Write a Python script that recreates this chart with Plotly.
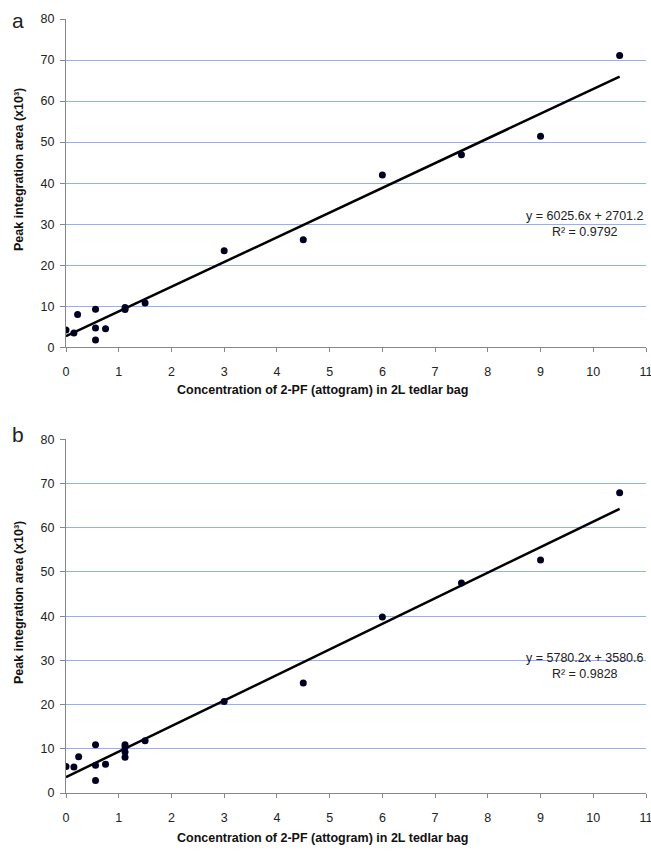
import plotly.graph_objects as go

# Panel a data (x: attogram, y: peak area x10^3)
xa = [0, 0.15, 0.22, 0.56, 0.56, 0.56, 0.75, 1.12, 1.12, 1.5, 3, 4.5, 6, 7.5, 9, 10.5]
ya = [4.2, 3.5, 8.0, 9.3, 4.7, 1.8, 4.5, 9.7, 9.2, 10.8, 23.5, 26.2, 42.0, 46.9, 51.4, 71.1]
# Panel b data
xb = [0, 0.15, 0.24, 0.56, 0.56, 0.56, 0.75, 1.12, 1.12, 1.12, 1.12, 1.5, 3, 4.5, 6, 7.5, 9, 10.5]
yb = [6.0, 5.9, 8.2, 10.9, 6.3, 2.8, 6.5, 10.9, 10.4, 9.3, 8.1, 11.8, 20.7, 24.9, 39.8, 47.5, 52.7, 67.9]

# Trendline coefficients (raw units) as printed on chart
slope_a, icpt_a = 6025.6, 2701.2
slope_b, icpt_b = 5780.2, 3580.6
r2_a, r2_b = "0.9792", "0.9828"
eq_a = "y = 6025.6x + 2701.2"
eq_b = "y = 5780.2x + 3580.6"
fit_x = [0, 10.5]

x_ticks = list(range(0, 12))
y_ticks = list(range(0, 90, 10))

W, Hfig = 651, 853
ML, MR, MT, MB = 66, 5, 19, 60
PW = W - ML - MR
PH = Hfig - MT - MB

def px(p):
    return (p - ML) / PW

def py(p):
    return (Hfig - MB - p) / PH

fig = go.Figure()

def fit_line(slope, icpt):
    return [(slope * x + icpt) / 1000 for x in fit_x]

mk = dict(color="#000022", size=7)
fig.add_trace(go.Scatter(x=fit_x, y=fit_line(slope_a, icpt_a), mode="lines",
                         line=dict(color="black", width=2.5), xaxis="x", yaxis="y", showlegend=False))
fig.add_trace(go.Scatter(x=xa, y=ya, mode="markers", marker=mk, xaxis="x", yaxis="y", showlegend=False))
fig.add_trace(go.Scatter(x=fit_x, y=fit_line(slope_b, icpt_b), mode="lines",
                         line=dict(color="black", width=2.5), xaxis="x2", yaxis="y2", showlegend=False))
fig.add_trace(go.Scatter(x=xb, y=yb, mode="markers", marker=mk, xaxis="x2", yaxis="y2", showlegend=False))

FAM = "Arial, Liberation Sans, sans-serif"
tickfont = dict(family=FAM, size=12.5, color="#222222")
xcommon = dict(range=[0, 11], tickvals=x_ticks, showgrid=False, zeroline=False,
               showline=True, linecolor="#888888", linewidth=1, ticks="outside",
               ticklen=4, tickcolor="#888888", tickfont=tickfont, automargin=False,
               ticklabelstandoff=9, ticklabeloverflow="allow")
ycommon = dict(range=[0, 80], tickvals=y_ticks, showgrid=True, gridcolor="#96AEF5", gridwidth=1,
               zeroline=False, showline=True, linecolor="#888888", linewidth=1, ticks="outside",
               ticklen=5, tickcolor="#888888", tickfont=tickfont, automargin=False,
               ticklabelstandoff=3)

# panel a: y=80 at pixel 19, y=0 at 347.3 ; panel b: 439.3 .. 793.3
fig.update_layout(
    width=W, height=Hfig,
    margin=dict(l=ML, r=MR, t=MT, b=MB),
    paper_bgcolor="white", plot_bgcolor="white",
    xaxis=dict(domain=[0, 1], anchor="y", **xcommon),
    yaxis=dict(domain=[py(347.3), 1], anchor="x", **ycommon),
    xaxis2=dict(domain=[0, 1], anchor="y2", **xcommon),
    yaxis2=dict(domain=[0, py(439.3)], anchor="x2", **ycommon),
)

afont = dict(family=FAM, size=12.5, color="#222222")
tfont = dict(family=FAM, size=12.5, color="#111111")
yt = "<b>Peak integration area (x10³)</b>"
xt = "<b>Concentration of 2-PF (attogram) in 2L tedlar bag</b>"

def ann(xp, yp, text, font, xanchor="center", **kw):
    fig.add_annotation(x=px(xp), y=py(yp), xref="paper", yref="paper", text=text,
                       showarrow=False, font=font, xanchor=xanchor, yanchor="middle", **kw)

# equations
ann(646, 224, f"{eq_a}<br>R² = {r2_a}", afont, xanchor="right", align="center")
ann(646, 666, f"{eq_b}<br>R² = {r2_b}", afont, xanchor="right", align="center")
# axis titles
ann(322, 390, xt, tfont)
ann(322, 838, xt, tfont)
ann(19, 170, yt, tfont, textangle=-90)
ann(19, 603, yt, tfont, textangle=-90)
# panel letters
ann(18, 20, "a", dict(family=FAM, size=21, color="#222222"))
ann(18, 435, "b", dict(family=FAM, size=21, color="#222222"))

fig.write_html("out.html", config={"displayModeBar": False},
               post_script="document.body.style.margin='0';document.body.style.padding='0';")
